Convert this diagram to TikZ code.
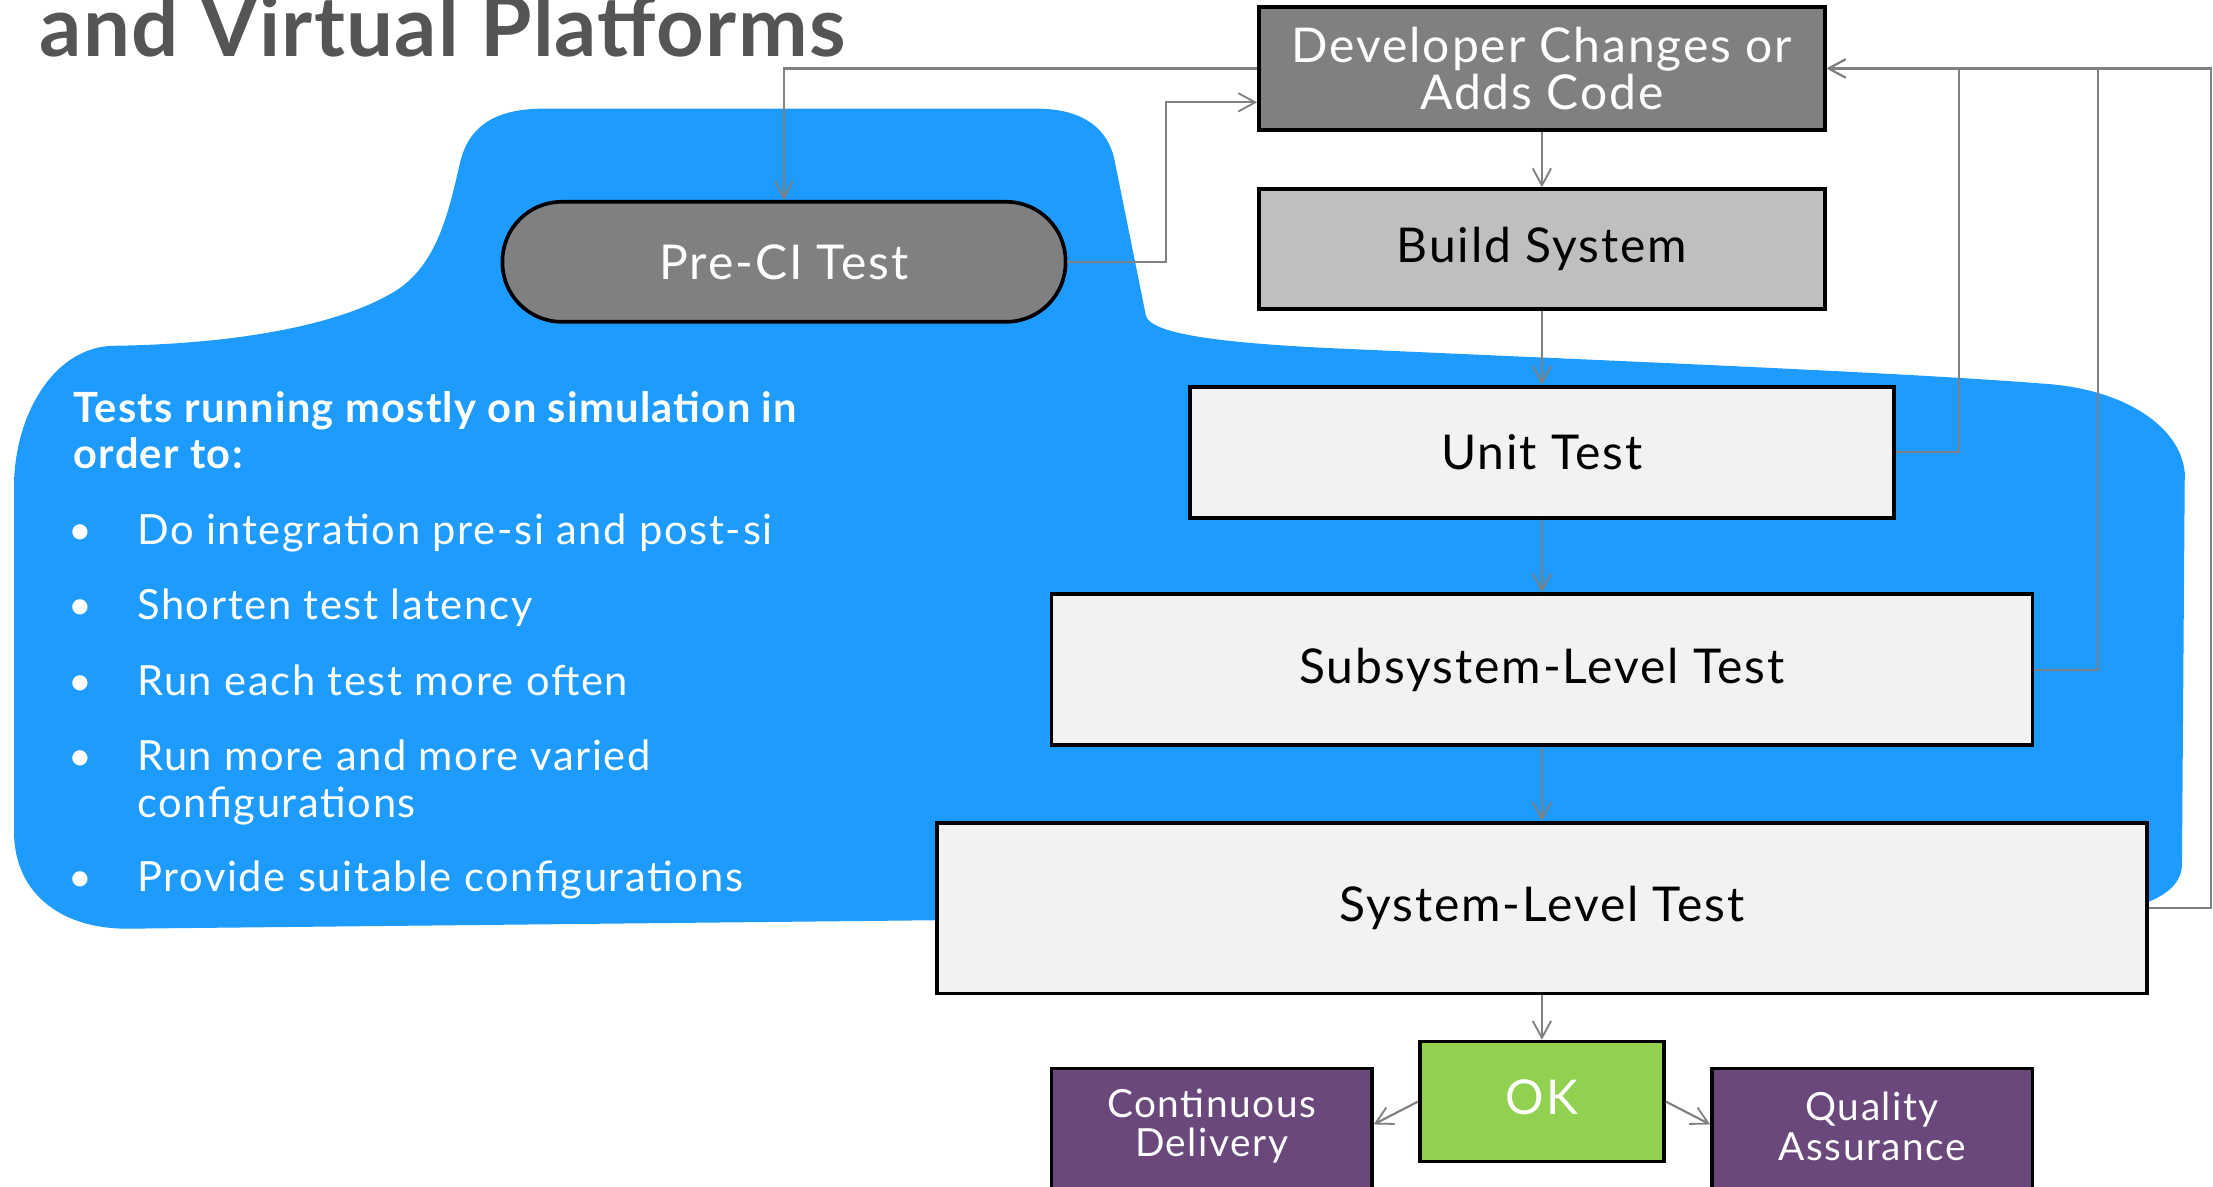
\documentclass[tikz,border=0pt]{standalone}
\usepackage{fontspec}
\setmainfont{Lato}[LetterSpace=4]
\newfontfamily\headfont{Lato}[LetterSpace=1.5]
\newfontfamily\leadfont{Lato}[LetterSpace=3]
\usetikzlibrary{arrows.meta,calc}
\definecolor{blobblue}{RGB}{30,155,255}
\definecolor{darkbox}{RGB}{128,128,128}
\definecolor{midbox}{RGB}{191,191,191}
\definecolor{lightbox}{RGB}{242,242,242}
\definecolor{okgreen}{RGB}{146,208,80}
\definecolor{plum}{RGB}{106,72,124}
\definecolor{wire}{RGB}{128,128,128}
\definecolor{titlegray}{RGB}{85,85,85}
\begin{document}
\begin{tikzpicture}[x=1pt,y=-1pt,
  box/.style={draw=black, line width=2.6pt, rectangle, inner sep=0pt, align=center,
              font=\fontsize{34}{33}\selectfont},
  darkstep/.style={box, fill=darkbox, text=white},
  midstep/.style={box, fill=midbox, text=black},
  lightstep/.style={box, fill=lightbox, text=black},
  okstep/.style={box, fill=okgreen, text=white},
  endstep/.style={box, fill=plum},
  endlabel/.style={text=white, align=center, inner sep=0pt, font=\fontsize{27.5}{28}\selectfont},
  conn/.style={draw=wire, line width=1.5pt, -{Straight Barb[length=12pt,width=13pt,line width=1.3pt]}},
  note/.style={text=white, anchor=base west, inner sep=0pt, font=\fontsize{29.5}{33}\selectfont},
  lead/.style={note, font=\leadfont\bfseries\fontsize{29.5}{33}\selectfont},
  dot/.style={text=white, anchor=base, inner sep=0pt, font=\fontsize{29}{33}\selectfont}]

\useasboundingbox (0,0) rectangle (1568,841);
\clip (0,0) rectangle (1568,841);

% heading of the slide
\node[anchor=base west, inner sep=0pt, text=titlegray,
      font=\headfont\bfseries\fontsize{59}{60}\selectfont] (title) at (28,40) {and Virtual Platforms};

% blue region holding the simulation-based stages
\fill[blobblue] (80,245)
  .. controls (160,244) and (240,232) .. (282,205)
  .. controls (310,186) and (318,150) .. (326,115)
  .. controls (332,90) and (350,77) .. (385,77)
  -- (735,77)
  .. controls (768,77) and (786,92) .. (790,115)
  -- (812,224)
  .. controls (816,236) and (860,243) .. (950,247)
  .. controls (1150,256) and (1350,264) .. (1450,272)
  .. controls (1505,276) and (1545,302) .. (1548,335)
  -- (1546,612)
  .. controls (1546,626) and (1535,634) .. (1520,640)
  -- (1300,648) -- (665,652) -- (90,658)
  .. controls (40,658) and (10,630) .. (10,590)
  -- (10,340)
  .. controls (12,290) and (40,246) .. (80,245) -- cycle;

% text on the blue region
\node[lead] (head) at (52,299) {Tests running mostly on simulation in};
\node[lead] (head2) at (52,332) {order to:};
\node[dot] (b1) at (57,386) {•};
\node[note] (t1) at (97,386) {Do integration pre-si and post-si};
\node[dot] (b2) at (57,439) {•};
\node[note] (t2) at (97,439) {Shorten test latency};
\node[dot] (b3) at (57,493) {•};
\node[note] (t3) at (97,493) {Run each test more often};
\node[dot] (b4) at (57,546) {•};
\node[note] (t4) at (97,546) {Run more and more varied};
\node[note] (t4b) at (97,579) {configurations};
\node[dot] (b5) at (57,632) {•};
\node[note] (t5) at (97,632) {Provide suitable configurations};

% pipeline stages
\node[darkstep, minimum width=401pt, minimum height=87pt] (dev) at (1092.5,48.5)
  {Developer Changes or\\Adds Code};
\node[midstep, minimum width=401pt, minimum height=85pt] (build) at (1092.5,176.5) {Build System};
\node[lightstep, minimum width=499pt, minimum height=93pt] (unit) at (1092.5,320.5) {Unit Test};
\node[lightstep, minimum width=695pt, minimum height=107pt] (subsys) at (1092.5,474.5) {Subsystem-Level Test};
\node[lightstep, minimum width=857pt, minimum height=121pt] (system) at (1092.5,643.5) {System-Level Test};
\node[okstep, minimum width=173pt, minimum height=85pt, text depth=6pt] (ok) at (1092.5,780.5) {OK};
\node[endstep, minimum width=227pt, minimum height=130pt] (cd) at (858.5,822) {};
\node[endstep, minimum width=227pt, minimum height=130pt] (qa) at (1326.5,822) {};
\node[endlabel] (cdtext) at (858.5,798) {Continuous\\Delivery};
\node[endlabel] (qatext) at (1326.5,798) {Quality\\Assurance};

% pre-integration test
\node[darkstep, rounded corners=42pt, minimum width=399pt, minimum height=85pt] (preci)
  at (555.5,185.5) {Pre-CI Test};

% connectors
\coordinate (devin) at ([yshift=-24pt]dev.west);
\coordinate (cdin) at ([yshift=-41pt]cd.north east);
\coordinate (qain) at ([yshift=-41pt]qa.north west);

\draw[conn] (dev.west) -| (preci.north);
\draw[conn] (preci.east) -- ++(70,0) |- (devin);
\draw[conn] (dev.south) -- (build.north);
\draw[conn] (build.south) -- (unit.north);
\draw[conn] (unit.south) -- (subsys.north);
\draw[conn] (subsys.south) -- (system.north);
\draw[conn] (system.south) -- (ok.north);
\draw[conn] (ok.west) -- (cdin);
\draw[conn] (ok.east) -- (qain);
\draw[conn] (unit.east) -- ++(45,0) |- (dev.east);
\draw[conn] (subsys.east) -- ++(45,0) |- (dev.east);
\draw[conn] (system.east) -- ++(44,0) |- (dev.east);
\end{tikzpicture}
\end{document}
